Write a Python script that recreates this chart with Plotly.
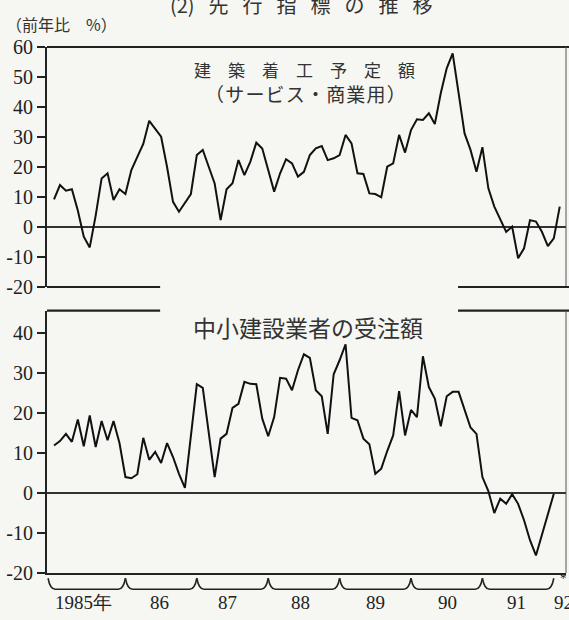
import plotly.graph_objects as go

# ---- data (monthly, Jan 1985 = index 0) ----
building_starts = [
    9.2, 14.0, 12.1, 12.6, 5.5, -3.2, -6.8, 3.8, 16.2, 17.9, 9.0, 12.6,
    11.0, 19.0, 23.4, 27.7, 35.4, 32.9, 30.1, 20.0, 8.4, 5.1, 8.0, 11.0,
    24.0, 25.7, 20.1, 14.5, 2.3, 12.6, 14.6, 22.3, 17.3, 21.8, 28.1, 26.2,
    19.0, 11.8, 17.9, 22.6, 21.2, 16.8, 18.4, 24.0, 26.2, 27.0, 22.3, 22.9,
    24.0, 30.7, 27.9, 17.9, 17.7, 11.2, 11.0, 9.9, 20.1, 21.2, 30.7, 24.8,
    32.3, 35.9, 35.7, 37.9, 34.3, 44.6, 52.9, 57.9, 44.6, 31.2, 25.7, 18.4,
    26.6, 12.9, 6.8, 2.3, -1.6, 0.1, -10.4, -7.1, 2.3, 1.8, -1.6, -6.4,
    -3.8, 6.8,
]
small_contractors = [
    11.9, 13.0, 14.8, 12.8, 18.4, 11.7, 19.4, 11.5, 18.0, 13.2, 18.0, 12.5,
    4.0, 3.7, 4.7, 13.8, 8.3, 10.3, 7.5, 12.5, 9.0, 4.8, 1.3, 14.0,
    27.2, 26.3, 15.0, 4.0, 13.6, 14.8, 21.3, 22.3, 27.8, 27.3, 27.2, 18.6,
    14.2, 19.0, 28.8, 28.6, 25.7, 30.7, 34.7, 33.8, 25.7, 24.2, 14.8, 29.7,
    33.2, 37.2, 18.8, 18.2, 13.6, 12.2, 4.8, 6.1, 10.5, 14.4, 25.5, 14.4,
    20.8, 19.0, 34.2, 26.5, 23.6, 16.7, 24.2, 25.3, 25.3, 20.8, 16.4, 14.8,
    4.0, 0.5, -5.0, -1.4, -2.7, -0.3, -2.7, -6.8, -11.8, -15.6, -10.5, -5.0,
    -0.2,
]
year_labels = ["1985年", "86", "87", "88", "89", "90", "91", "92"]
year_label_pos = [5.0, 17.8, 29.2, 41.5, 54.0, 66.2, 77.8, 85.6]
year_bounds = [0, 12, 24, 36, 48, 60, 72, 84]
top_ticks = [-20, -10, 0, 10, 20, 30, 40, 50, 60]
bot_ticks = [-20, -10, 0, 10, 20, 30, 40]

INK = "#222222"
BG = "#f6f7f2"
TICKFONT = dict(family="Liberation Serif", size=20, color=INK)
JP = "Noto Sans CJK JP"

fig = go.Figure()
fig.add_trace(go.Scatter(x=list(range(len(building_starts))), y=building_starts,
                         mode="lines", line=dict(color="#111", width=2),
                         xaxis="x", yaxis="y", showlegend=False, hoverinfo="skip"))
fig.add_trace(go.Scatter(x=list(range(len(small_contractors))), y=small_contractors,
                         mode="lines", line=dict(color="#111", width=2),
                         xaxis="x2", yaxis="y2", showlegend=False, hoverinfo="skip"))

XR = [-1.18, 86.05]
top_dom = [0.5437, 1.0]
bot_dom = [0.0, 0.4987]

def yax(ticks, rng, dom, anchor):
    return dict(domain=dom, range=rng, anchor=anchor,
                tickvals=ticks, ticktext=[str(t) for t in ticks],
                tickfont=TICKFONT, ticks="outside", ticklen=8, tickwidth=1.5,
                tickcolor=INK, showline=True, linewidth=2.2, linecolor=INK,
                showgrid=False, zeroline=True, zerolinecolor="#333",
                zerolinewidth=1.5, fixedrange=True)

fig.update_layout(
    width=569, height=620,
    margin=dict(l=47, r=3, t=47, b=47, autoexpand=False),
    paper_bgcolor=BG, plot_bgcolor=BG,
    xaxis=dict(domain=[0, 1], range=XR, anchor="y", visible=False, fixedrange=True),
    yaxis=yax(top_ticks, [-20, 60], top_dom, "x"),
    xaxis2=dict(domain=[0, 1], range=XR, anchor="y2", showticklabels=False,
                ticks="", showgrid=False, zeroline=False, showline=True,
                linewidth=2.2, linecolor=INK, fixedrange=True),
    yaxis2=yax(bot_ticks, [-20, 45.6], bot_dom, "x2"),
)

shapes = []
L = dict(color=INK, width=2.2)
T = dict(color="#555", width=1)
# top panel frame
shapes.append(dict(type="line", xref="x domain", yref="y domain", x0=0, x1=1.01, y0=1, y1=1, line=L))
shapes.append(dict(type="line", xref="x domain", yref="y domain", x0=1, x1=1, y0=0, y1=1, line=T))
shapes.append(dict(type="line", xref="x domain", yref="y domain", x0=0, x1=0.218, y0=0, y1=0, line=L))
shapes.append(dict(type="line", xref="x domain", yref="y domain", x0=0.792, x1=1.01, y0=0, y1=0, line=L))
# bottom panel frame
shapes.append(dict(type="line", xref="x2 domain", yref="y2 domain", x0=0, x1=0.218, y0=1, y1=1, line=L))
shapes.append(dict(type="line", xref="x2 domain", yref="y2 domain", x0=0.792, x1=1.01, y0=1, y1=1, line=L))
shapes.append(dict(type="line", xref="x2 domain", yref="y2 domain", x0=1, x1=1, y0=0, y1=1, line=T))

# year braces below the axis
ytop, ybot = -0.010, -0.031
for i in range(len(year_bounds) - 1):
    a = year_bounds[i] if i > 0 else -1.0
    b = year_bounds[i + 1]
    path = (f"M {a},{ytop} Q {a+0.35},{ybot} {a+1.2},{ybot} "
            f"L {b-1.2},{ybot} Q {b-0.35},{ybot} {b},{ytop}")
    shapes.append(dict(type="path", xref="x2", yref="paper", path=path,
                       line=dict(color=INK, width=1.6)))
fig.update_layout(shapes=shapes)

ann = []
for lab, pos in zip(year_labels, year_label_pos):
    ann.append(dict(x=pos, y=-0.056, xref="x2", yref="paper", text=lab,
                    showarrow=False, xanchor="center", yanchor="middle",
                    font=dict(family="Liberation Serif", size=19, color=INK)))
ann.append(dict(x=85.7, y=-0.027, xref="x2", yref="paper", text="*",
                showarrow=False, font=dict(family="Liberation Serif", size=13, color=INK)))
sp = "\u2002\u2009"
ann.append(dict(x=0.49, y=1.080, xref="paper", yref="paper",
                text="(2)" + sp + sp.join("先行指標の推移"), showarrow=False,
                xanchor="center", yanchor="middle",
                font=dict(family=JP, size=20, color="#333")))
ann.append(dict(x=-0.082, y=1.044, xref="paper", yref="paper",
                text="（前年比　%）", showarrow=False, xanchor="left", yanchor="middle",
                font=dict(family=JP, size=16, color="#333")))
ann.append(dict(x=0.497, y=0.957, xref="paper", yref="paper",
                text="建　築　着　工　予　定　額", showarrow=False,
                xanchor="center", yanchor="middle",
                font=dict(family=JP, size=17, color="#333")))
ann.append(dict(x=0.499, y=0.912, xref="paper", yref="paper",
                text="\u200a".join("（サービス・商業用）"), showarrow=False,
                xanchor="center", yanchor="middle",
                font=dict(family=JP, size=19, color="#333")))
ann.append(dict(x=0.503, y=0.4677, xref="paper", yref="paper",
                text="中小建設業者の受注額", showarrow=False,
                xanchor="center", yanchor="middle",
                font=dict(family=JP, size=23, color="#333")))
fig.update_layout(annotations=ann)

fig.write_html("out.html", config={"displayModeBar": False},
               post_script="document.body.style.margin='0';")
